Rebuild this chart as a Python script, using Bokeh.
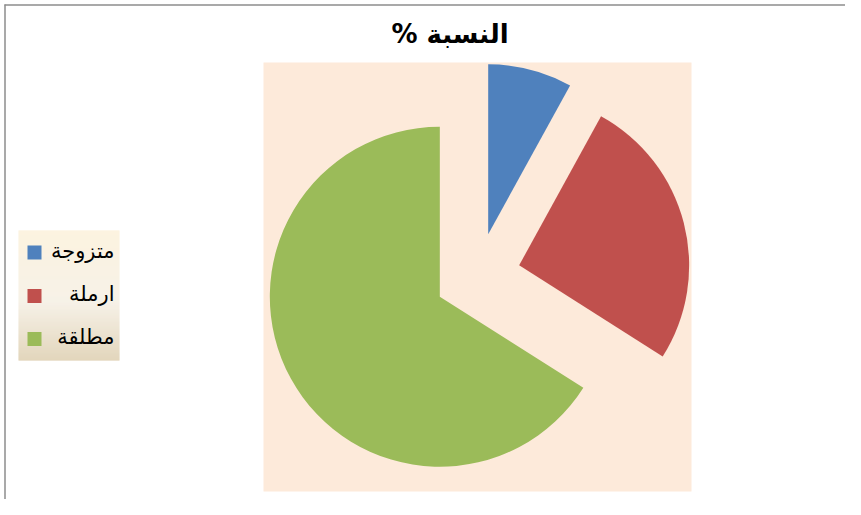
import numpy as np
from bokeh.plotting import figure
from bokeh.models import Range1d, ColumnDataSource
from bokeh.core.properties import value
from bokeh.embed import file_html
from bokeh.resources import INLINE

# ---- data ----
title_text = "النسبة %\u200f"
labels = ["متزوجة", "ارملة", "مطلقة"]
values = [8, 26, 66]
colors = ["#4F81BD", "#C0504D", "#9BBB59"]

W, H = 845, 499


def Y(sy):
    # image y (from top) -> data y
    return H - sy


p = figure(width=W, height=H, x_range=Range1d(0, W), y_range=Range1d(0, H),
           output_backend="svg", toolbar_location=None, min_border=0,
           x_axis_location=None, y_axis_location=None)
p.grid.visible = False
p.outline_line_color = None
p.background_fill_color = "white"
p.border_fill_color = "white"

# chart border (top + left)
p.segment(x0=[4, 4.5], y0=[Y(4.5), Y(4)], x1=[W, 4.5], y1=[Y(4.5), Y(H)],
          line_color="#8C8C8C", line_width=1.5)

# plot area
p.quad(left=[263], right=[691], top=[Y(62)], bottom=[Y(491)], fill_color="#FDEADA", line_color=None)

# pie (all slices exploded)
cx, cy = 477, Y(275.5)
radius = 170
explode = 43
vals = np.array(values, dtype=float)
frac = vals / vals.sum()
cum = np.concatenate([[0], np.cumsum(frac)])
start = np.pi / 2 - 2 * np.pi * cum[:-1]
end = np.pi / 2 - 2 * np.pi * cum[1:]
mid = (start + end) / 2
src = ColumnDataSource(dict(
    x=cx + explode * np.cos(mid), y=cy + explode * np.sin(mid),
    start=start, end=end, color=colors, label=labels))
p.wedge(x="x", y="y", radius=radius, start_angle="start", end_angle="end",
        direction="clock", fill_color="color", line_color=None, source=src)

# title
p.text(x=[449.5], y=[Y(33)], text=[title_text], text_font=value("DejaVu Sans"),
       text_font_style="bold", text_font_size="26px", text_align="center",
       text_baseline="middle", text_color="black")

# legend box with vertical gradient
lx0, lx1, ly0, ly1 = 18, 119, 230, 360
stops_pos = [0.0, 0.55, 1.0]
stops_col = [(251, 239, 213), (244, 237, 224), (217, 200, 165)]
n = ly1 - ly0
ts = (np.arange(n) + 0.5) / n
cols = []
for t in ts:
    rgb = [int(round(np.interp(t, stops_pos, [c[k] for c in stops_col]))) for k in range(3)]
    cols.append("#%02x%02x%02x" % tuple(rgb))
p.quad(left=[lx0] * n, right=[lx1] * n, top=[Y(ly0 + i) for i in range(n)],
       bottom=[Y(ly0 + i + 1.05) for i in range(n)], fill_color=cols, line_color=None)

row_y = [252, 295.5, 338.5]
p.quad(left=[27] * 3, right=[41] * 3, top=[Y(r - 7) for r in row_y], bottom=[Y(r + 7) for r in row_y],
       fill_color=colors, line_color=None)
p.text(x=[114] * 3, y=[Y(r - 2) for r in row_y], text=labels, text_font=value("DejaVu Sans"),
       text_font_size="21px", text_align="right", text_baseline="middle", text_color="black")

open("out.html", "w").write(file_html(p, INLINE))
